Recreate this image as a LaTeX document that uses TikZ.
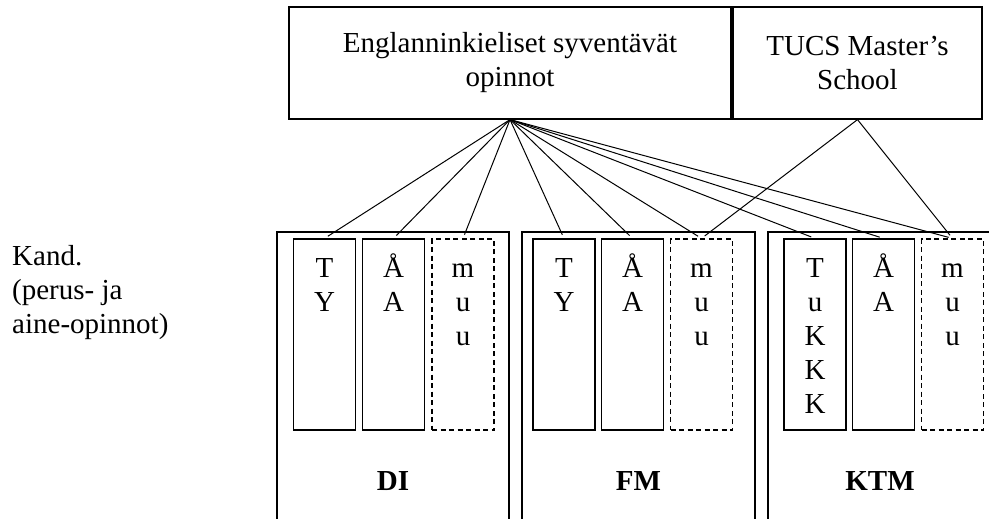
\documentclass[tikz,border=0pt]{standalone}
\usepackage{fontspec}
\setmainfont{Liberation Serif}
\newcommand{\fstrut}{\rule{0pt}{28pt}}
\begin{document}
\begin{tikzpicture}[x=1pt,y=-1pt,
  every node/.style={font=\fontsize{29}{34}\selectfont},
  topbox/.style={draw, line width=1.2pt, inner sep=0pt, align=center, minimum height=112pt},
  outerbox/.style={draw, line width=1.2pt, inner sep=0pt, minimum height=320pt},
  colbox/.style={draw, line width=1.2pt, inner sep=0pt, minimum width=62pt, minimum height=191pt},
  optbox/.style={colbox, dash pattern=on 5pt off 3.5pt},
  coltext/.style={anchor=north, inner sep=0pt, align=center},
  sidetext/.style={anchor=north west, inner sep=0pt, align=left},
  prog/.style={anchor=base, inner sep=0pt, font=\fontsize{29}{34}\selectfont\bfseries},
  link/.style={line width=1pt, shorten >=4pt}
]
\useasboundingbox (0,0) rectangle (989,519);
\clip (0,0) rectangle (989,519);

% top boxes
\node[topbox, minimum width=442pt] (eng) at (510,63) {Englanninkieliset syventävät\\opinnot};
\node[topbox, minimum width=249pt] (tucs) at (857.5,63) {TUCS Master’s\\School};

% left label
\node[sidetext] (kand) at (12,237) {\fstrut Kand.\\(perus- ja\\aine-opinnot)};

% outer programme boxes
\node[outerbox, minimum width=232pt] (di) at (393,392) {};
\node[outerbox, minimum width=233pt] (fm) at (638.5,392) {};
\node[outerbox, minimum width=224pt] (ktm) at (880,392) {};

\node[prog] (dil) at (393,490) {DI};
\node[prog] (fml) at (638.5,490) {FM};
\node[prog] (ktml) at (880,490) {KTM};

% columns
\node[colbox] (dity) at (324.5,334.5) {};
\node[colbox] (diaa) at (393.5,334.5) {};
\node[optbox] (dimuu) at (463,334.5) {};
\node[colbox] (fmty) at (564,334.5) {};
\node[colbox] (fmaa) at (632.5,334.5) {};
\node[optbox] (fmmuu) at (701.5,334.5) {};
\node[colbox] (ktmtk) at (815,334.5) {};
\node[colbox] (ktmaa) at (883.5,334.5) {};
\node[optbox] (ktmmuu) at (952.5,334.5) {};

% column texts
\node[coltext] (t1) at (324.5,249) {\fstrut T\\Y};
\node[coltext] (t2) at (393.5,249) {\fstrut Å\\A};
\node[coltext] (t3) at (463,249) {\fstrut m\\u\\u};
\node[coltext] (t4) at (564,249) {\fstrut T\\Y};
\node[coltext] (t5) at (632.5,249) {\fstrut Å\\A};
\node[coltext] (t6) at (701.5,249) {\fstrut m\\u\\u};
\node[coltext] (t7) at (815,249) {\fstrut T\\u\\K\\K\\K};
\node[coltext] (t8) at (883.5,249) {\fstrut Å\\A};
\node[coltext] (t9) at (952.5,249) {\fstrut m\\u\\u};

% connectors
\foreach \c in {dity,diaa,dimuu,fmty,fmaa,fmmuu,ktmtk,ktmaa,ktmmuu}
  \draw[link] (eng.south) -- (\c.north);
\draw[link] (tucs.south) -- (fmmuu.north);
\draw[link] (tucs.south) -- (ktmmuu.north);
\end{tikzpicture}
\end{document}
